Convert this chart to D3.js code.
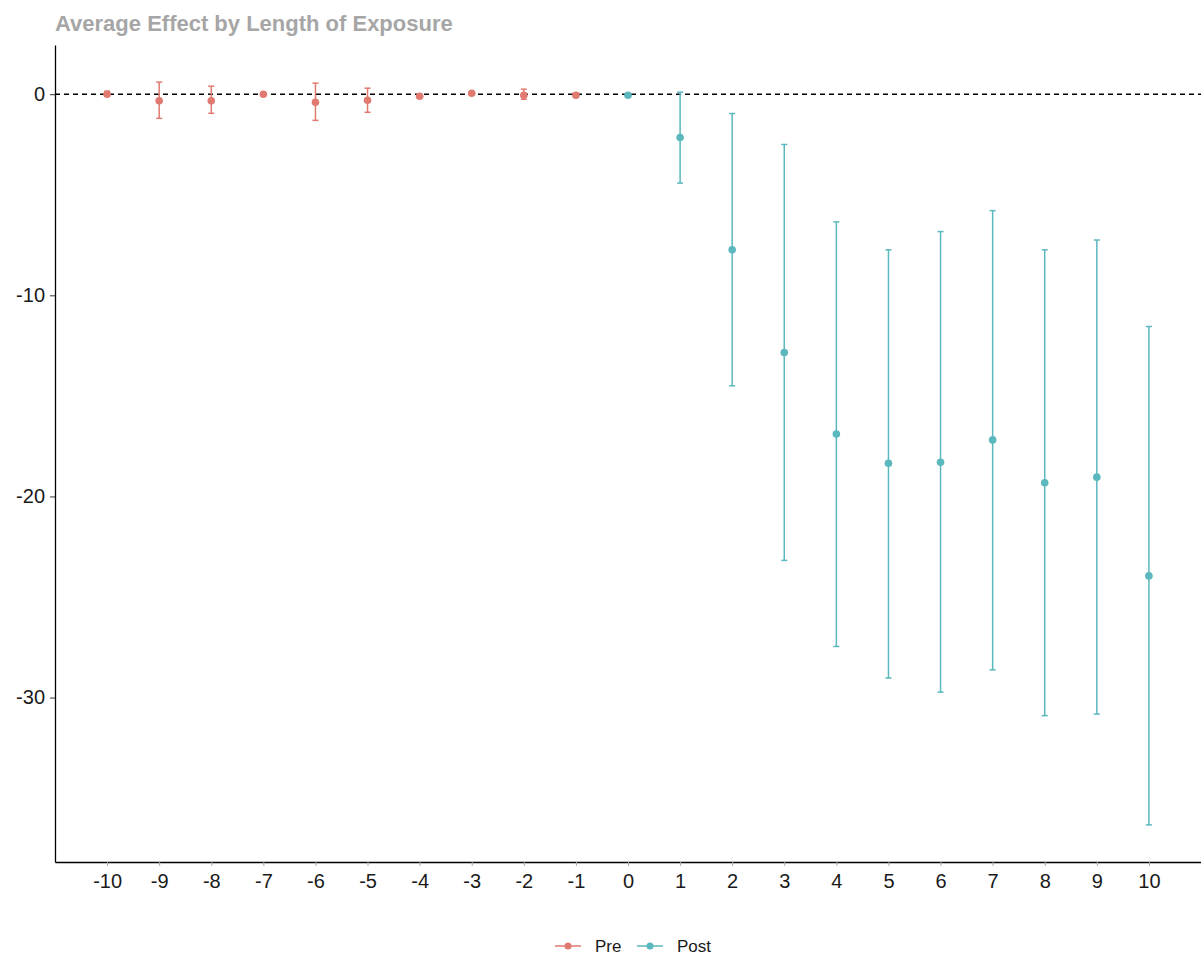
<!DOCTYPE html>
<html>
<head>
<meta charset="utf-8">
<script src="https://cdn.jsdelivr.net/npm/d3@7"></script>
<style>
  body { margin: 0; background: #fff; }
  svg { display: block; font-family: "Liberation Sans", Arial, sans-serif; }
</style>
</head>
<body>
<svg id="chart"></svg>
<script>
// Event-study estimates
const periods  = [-10, -9, -8, -7, -6, -5, -4, -3, -2, -1, 0, 1, 2, 3, 4, 5, 6, 7, 8, 9, 10];
const groups   = ["Pre","Pre","Pre","Pre","Pre","Pre","Pre","Pre","Pre","Pre","Post","Post","Post","Post","Post","Post","Post","Post","Post","Post","Post"];
const estimate = [0.0, -0.33, -0.33, 0.0, -0.4, -0.3, -0.1, 0.05, -0.05, -0.05, -0.05, -2.15, -7.74, -12.84, -16.9, -18.35, -18.3, -17.19, -19.32, -19.04, -23.95];
const lower    = [-0.1, -1.2, -0.95, -0.05, -1.3, -0.9, -0.15, 0.02, -0.25, -0.15, -0.1, -4.42, -14.5, -23.18, -27.46, -29.03, -29.73, -28.62, -30.9, -30.82, -36.33];
const upper    = [0.15, 0.6, 0.4, 0.05, 0.55, 0.3, -0.05, 0.08, 0.25, 0.05, 0.0, 0.1, -0.96, -2.5, -6.35, -7.74, -6.83, -5.79, -7.74, -7.25, -11.55];
const yTicks   = [0, -10, -20, -30];
const legendLabels = ["Pre", "Post"];

const data = periods.map((p, i) => ({
    period: p, group: groups[i], est: estimate[i], lo: lower[i], hi: upper[i]
}));

const W = 1201, H = 957;
const margin = { top: 45, right: 0, bottom: 95, left: 55 };

const svg = d3.select("#chart").attr("width", W).attr("height", H);

const color = d3.scaleOrdinal().domain(legendLabels).range(["#E07A70", "#5BB8BE"]);

// x is continuous with roughly one unit of padding each side
const x = d3.scaleLinear().domain([-11, 11]).range([margin.left, W - margin.right]);

// ggplot-style 5% expansion on the y range
const yLo = d3.min(lower), yHi = d3.max(upper);
const pad = (yHi - yLo) * 0.05;
const y = d3.scaleLinear().domain([yLo - pad, yHi + pad]).range([H - margin.bottom, margin.top]);

// plain hyphen minus, like the original
const fmt = d => String(d);

// title
svg.append("text")
    .attr("x", 55).attr("y", 31)
    .style("font-size", "22px").style("font-weight", "bold")
    .style("fill", "#a6a6a6")
    .text("Average Effect by Length of Exposure");

// y axis
const yAxis = svg.append("g")
    .attr("transform", `translate(${margin.left},0)`)
    .call(d3.axisLeft(y).tickValues(yTicks).tickFormat(fmt).tickSizeInner(5).tickSizeOuter(0).tickPadding(5));
yAxis.select(".domain").attr("stroke", "#000").attr("stroke-width", 1.3);
yAxis.selectAll(".tick line").attr("stroke", "#333");
yAxis.selectAll("text").style("font-size", "20px").style("fill", "#1a1a1a");

// x axis
const xAxis = svg.append("g")
    .attr("transform", `translate(0,${H - margin.bottom})`)
    .call(d3.axisBottom(x).tickValues(periods).tickFormat(fmt).tickSizeInner(4).tickSizeOuter(0).tickPadding(8));
xAxis.select(".domain").attr("stroke", "#000").attr("stroke-width", 1.3);
xAxis.selectAll(".tick line").attr("stroke", "#aaa");
xAxis.selectAll("text").style("font-size", "20px").style("fill", "#1a1a1a");

// reference line at zero
svg.append("line")
    .attr("x1", margin.left).attr("x2", W - margin.right)
    .attr("y1", y(0)).attr("y2", y(0))
    .attr("stroke", "#000").attr("stroke-width", 1.4)
    .attr("stroke-dasharray", "5,4");

// error bars
const bars = svg.append("g").selectAll("g.bar")
    .data(data).enter().append("g").attr("class", "bar")
    .attr("stroke", d => color(d.group)).attr("stroke-width", 1.5);

bars.append("line")
    .attr("x1", d => x(d.period)).attr("x2", d => x(d.period))
    .attr("y1", d => y(d.lo)).attr("y2", d => y(d.hi));
bars.append("line")
    .attr("x1", d => x(d.period) - 3).attr("x2", d => x(d.period) + 3)
    .attr("y1", d => y(d.lo)).attr("y2", d => y(d.lo));
bars.append("line")
    .attr("x1", d => x(d.period) - 3).attr("x2", d => x(d.period) + 3)
    .attr("y1", d => y(d.hi)).attr("y2", d => y(d.hi));

// points
svg.append("g").selectAll("circle")
    .data(data).enter().append("circle")
    .attr("cx", d => x(d.period)).attr("cy", d => y(d.est))
    .attr("r", 3.8)
    .attr("fill", d => color(d.group));

// legend
const legend = svg.append("g").attr("transform", "translate(555,946)");
const keyX = [0, 82];
legendLabels.forEach((lab, i) => {
    const g = legend.append("g").attr("transform", `translate(${keyX[i]},0)`);
    g.append("line").attr("x1", 0).attr("x2", 26).attr("y1", 0).attr("y2", 0)
        .attr("stroke", color(lab)).attr("stroke-width", 1.5);
    g.append("circle").attr("cx", 13).attr("cy", 0).attr("r", 3.5).attr("fill", color(lab));
    g.append("text").attr("x", 40).attr("y", 0).attr("dy", "0.35em")
        .style("font-size", "17px").style("fill", "#1a1a1a")
        .text(lab);
});
</script>
</body>
</html>
